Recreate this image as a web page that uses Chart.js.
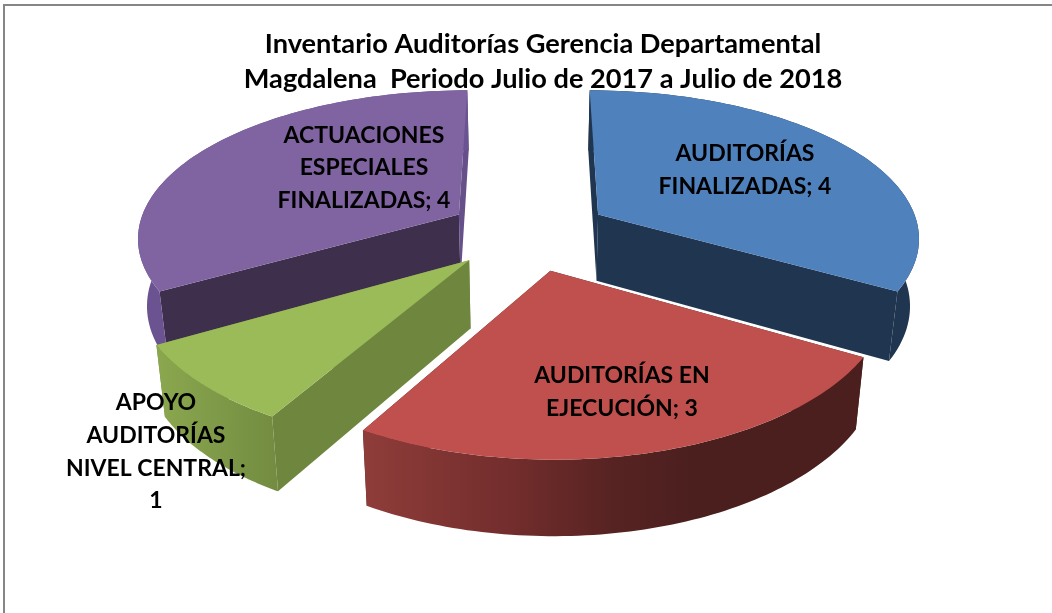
<!DOCTYPE html>
<html>
<head>
<meta charset="utf-8">
<style>
  body { margin: 0; background: #fff; }
  #wrap { position: relative; width: 1052px; height: 613px; overflow: hidden; }
  #frame { position: absolute; left: 3px; top: 4px; right: -2px; bottom: -2px; border-left: 2px solid #868686; border-top: 2px solid #868686; }
  canvas { position: absolute; left: 0; top: 0; }
</style>
<script src="https://cdn.jsdelivr.net/npm/chart.js@4/dist/chart.umd.min.js"></script>
</head>
<body>
<div id="wrap">
  <div id="frame"></div>
  <canvas id="auditChart" width="1052" height="613"></canvas>
</div>
<script>
const titleLines = ['Inventario Auditorías Gerencia Departamental', 'Magdalena  Periodo Julio de 2017 a Julio de 2018'];
const categories = ['AUDITORÍAS FINALIZADAS', 'AUDITORÍAS EN EJECUCIÓN', 'APOYO AUDITORÍAS NIVEL CENTRAL', 'ACTUACIONES ESPECIALES FINALIZADAS'];
const values = [4, 3, 1, 4];

const topColors = ['#4f81bd', '#c0504d', '#9bbb59', '#8064a2'];
const startWallColors = ['#1f3550', '#4a1f1e', '#6f863f', '#3e2f4d'];
const endWallColors = ['#1f3550', '#4a1f1e', '#6f863f', '#65508a'];
const outerWallColors = ['#1f3550', null, null, '#6a5390'];
const labelCenters = [[745, 170], [622, 392], [156, 452], [364, 168]];
const drawOrder = [3, 0, 2, 1];

// view used to tip the pie back, all in px
const view = { cx: 528.5, cy: 233, scaleX: 322, scaleY: 148, perspX: 0.14, perspY: 0.15, depth: 67, depthPersp: 0.1, depthShrink: 0.977 };
const labelFont = 'bold 23px Lato';
const labelWrap = 182;

function project(u, v, low) {
  let dx = view.scaleX * u / (1 + view.perspX * v);
  let y = view.cy - view.scaleY * v / (1 + view.perspY * v);
  if (low) {
    dx *= view.depthShrink;
    y += view.depth / (1 + view.depthPersp * v);
  }
  return [view.cx + dx, y];
}

function fillPoly(ctx, pts, fill) {
  ctx.beginPath();
  pts.forEach((p, i) => i ? ctx.lineTo(p[0], p[1]) : ctx.moveTo(p[0], p[1]));
  ctx.closePath();
  ctx.fillStyle = fill;
  ctx.fill();
}

function outerFill(ctx, i) {
  if (outerWallColors[i]) return outerWallColors[i];
  if (i === 1) {
    const g = ctx.createLinearGradient(360, 0, 700, 0);
    g.addColorStop(0, '#8f3d3a');
    g.addColorStop(0.45, '#722d2c');
    g.addColorStop(0.75, '#562322');
    g.addColorStop(1, '#4a1f1e');
    return g;
  }
  const g = ctx.createLinearGradient(155, 0, 276, 0);
  g.addColorStop(0, '#8ba84f');
  g.addColorStop(1, '#738c41');
  return g;
}

const pie3d = {
  id: 'pie3d',
  beforeDatasetDraw(chart, args) {
    const ctx = chart.ctx;
    const arcs = chart.getDatasetMeta(args.index).data;
    drawOrder.forEach(i => {
      const el = arcs[i].getProps(['startAngle', 'endAngle', 'outerRadius'], true);
      const R = el.outerRadius;
      const mid = (el.startAngle + el.endAngle) / 2;
      const off = arcs[i].options.offset / R;
      const ox = Math.cos(mid) * off;
      const oy = -Math.sin(mid) * off;
      const rim = low => {
        const pts = [];
        for (let k = 0; k <= 80; k++) {
          const a = el.startAngle + (el.endAngle - el.startAngle) * k / 80;
          pts.push(project(ox + Math.cos(a), oy - Math.sin(a), low));
        }
        return pts;
      };
      const rimTop = rim(false);
      const rimLow = rim(true);
      const apexTop = project(ox, oy, false);
      const apexLow = project(ox, oy, true);
      fillPoly(ctx, [apexTop, rimTop[0], rimLow[0], apexLow], startWallColors[i]);
      fillPoly(ctx, [apexTop, rimTop[80], rimLow[80], apexLow], endWallColors[i]);
      fillPoly(ctx, rimTop.concat(rimLow.slice().reverse()), outerFill(ctx, i));
      fillPoly(ctx, [apexTop].concat(rimTop), arcs[i].options.backgroundColor);
    });
    return false;
  },
  afterDatasetsDraw(chart) {
    const ctx = chart.ctx;
    ctx.save();
    ctx.font = labelFont;
    ctx.fillStyle = '#000';
    ctx.textAlign = 'center';
    ctx.textBaseline = 'middle';
    categories.forEach((name, i) => {
      const lines = [];
      let line = '';
      `${name}; ${values[i]}`.split(' ').forEach(word => {
        const next = line ? line + ' ' + word : word;
        if (line && ctx.measureText(next).width > labelWrap) {
          lines.push(line);
          line = word;
        } else {
          line = next;
        }
      });
      lines.push(line);
      const [x, y] = labelCenters[i];
      lines.forEach((l, k) => ctx.fillText(l, x, y + (k - (lines.length - 1) / 2) * 32.7));
    });
    ctx.restore();
  }
};

new Chart(document.getElementById('auditChart'), {
  type: 'pie',
  data: {
    labels: categories,
    datasets: [{
      data: values,
      backgroundColor: topColors,
      borderWidth: 0,
      offset: 57
    }]
  },
  options: {
    responsive: false,
    animation: false,
    layout: { padding: { left: 34, top: 0, bottom: 10 } },
    plugins: {
      legend: { display: false },
      tooltip: { enabled: false },
      title: {
        display: true,
        text: titleLines,
        color: '#000',
        font: { family: 'Lato', size: 27.2, weight: 'bold', lineHeight: 1.29 },
        padding: { top: 27, bottom: 0 }
      }
    }
  },
  plugins: [pie3d]
});
</script>
</body>
</html>
